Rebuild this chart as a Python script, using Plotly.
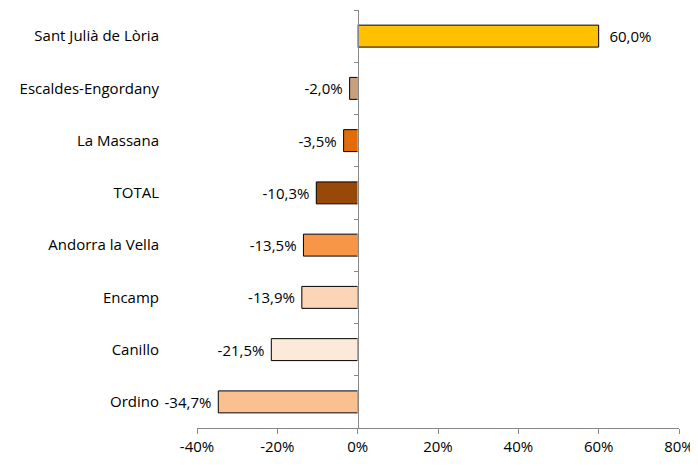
import plotly.graph_objects as go

categories = ["Sant Julià de Lòria", "Escaldes-Engordany", "La Massana", "TOTAL",
              "Andorra la Vella", "Encamp", "Canillo", "Ordino"]
values = [60.0, -2.0, -3.5, -10.3, -13.5, -13.9, -21.5, -34.7]
colors = ["#FFC000", "#C9A07F", "#E36C0A", "#984807", "#F79646", "#FBD5B5", "#FDE9D9", "#FAC090"]
x_ticks = [-40, -20, 0, 20, 40, 60, 80]
x_tick_labels = ["-40%", "-20%", "0%", "20%", "40%", "60%", "80%"]

labels = []
for v in values:
    s = f"{v:.1f}%".replace(".", ",")
    labels.append("  " + s if v >= 0 else s + " ")
FONT = "'Open Sans', Lato, sans-serif"

fig = go.Figure()
fig.add_trace(go.Bar(
    y=categories, x=values, orientation="h",
    marker=dict(color=colors, line=dict(color="#000000", width=1)),
    width=0.42,
    text=labels, textposition="outside", cliponaxis=False,
    textfont=dict(family=FONT, size=15, color="#000000"),
    hoverinfo="skip",
))
# invisible trace for the zero category axis line
fig.add_trace(go.Bar(y=categories, x=[0] * len(categories), orientation="h",
                     yaxis="y2", showlegend=False, hoverinfo="skip",
                     marker=dict(color="rgba(0,0,0,0)")))

xmin, xmax = -40, 80
# the page body has an 8px margin, so the figure is sized to fit the window
fig.update_layout(
    width=690, height=458,
    margin=dict(l=189, r=19, t=2, b=38),
    paper_bgcolor="white", plot_bgcolor="white",
    showlegend=False, bargap=0.58,
    font=dict(family=FONT, size=15, color="#000000"),
    xaxis=dict(range=[xmin, xmax], tickvals=x_ticks, ticktext=x_tick_labels,
               showgrid=False, zeroline=False, showline=True, linecolor="#888888",
               linewidth=1, ticks="outside", ticklen=5, tickcolor="#888888",
               tickfont=dict(size=15), automargin=False, fixedrange=True),
    yaxis=dict(type="category", categoryorder="array", categoryarray=categories,
               range=[len(categories) - 0.5, -0.5], showgrid=False, zeroline=False,
               showline=False, ticks="", ticklabelstandoff=37,
               tickfont=dict(size=15), automargin=False, fixedrange=True),
    yaxis2=dict(type="category", categoryorder="array", categoryarray=categories,
                range=[len(categories) - 0.5, -0.5], overlaying="y", anchor="free",
                position=(0 - xmin) / (xmax - xmin), side="left",
                showgrid=False, zeroline=False, showline=True, linecolor="#888888",
                linewidth=1, ticks="outside", ticklen=4, tickcolor="#888888",
                tickson="boundaries", showticklabels=False, automargin=False,
                fixedrange=True),
)

fig.write_html("out.html")
